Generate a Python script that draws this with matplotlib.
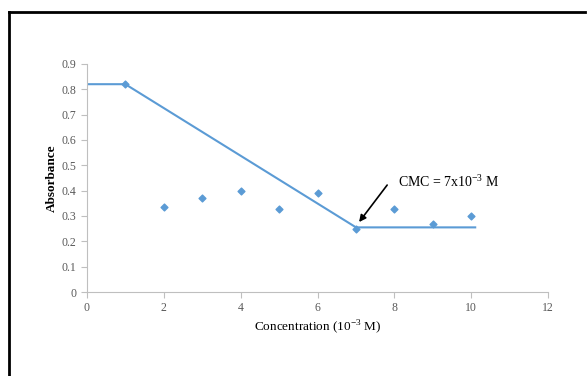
import matplotlib.pyplot as plt
from matplotlib.lines import Line2D

plt.rcParams['font.family'] = ['Liberation Serif', 'DejaVu Serif']

# measured absorbance vs concentration (10^-3 M)
conc = [1, 2, 3, 4, 5, 6, 7, 8, 9, 10]
absorb = [0.82, 0.337, 0.372, 0.397, 0.327, 0.39, 0.248, 0.327, 0.268, 0.298]

# fitted trend line
fit_x = [0, 1, 7, 10.1]
fit_y = [0.82, 0.82, 0.255, 0.255]

blue = '#5b9bd5'

fig = plt.figure(figsize=(5.87, 3.76), dpi=100)
ax = fig.add_axes([0.148, 0.2234, 0.786, 0.6066])

ax.plot(fit_x, fit_y, color=blue, lw=1.5, zorder=2)
ax.scatter(conc, absorb, marker='D', s=12, color=blue, zorder=3)

ax.set_xlim(0, 12)
ax.set_ylim(0, 0.9)
ax.set_xticks(range(0, 13, 2))
ax.set_yticks([i / 10 for i in range(10)])
ax.set_yticklabels(['0'] + ['%.1f' % (i / 10) for i in range(1, 10)])

for s in ['top', 'right']:
    ax.spines[s].set_visible(False)
for s in ['left', 'bottom']:
    ax.spines[s].set_color('#bfbfbf')
ax.tick_params(colors='#bfbfbf', labelcolor='#595959', labelsize=8.5,
               length=4, width=0.8)

ax.set_xlabel(r'Concentration (10$^{\mathregular{-3}}$ M)', fontsize=9.5, labelpad=3)
ax.set_ylabel('Absorbance', fontsize=9.5, fontweight='bold', labelpad=3)

ax.text(8.09, 0.434, r'CMC = 7x10$^{\mathregular{-3}}$ M', fontsize=10,
        va='center', ha='left')
ax.annotate('', xy=(7.08, 0.276), xytext=(7.81, 0.422),
            arrowprops=dict(arrowstyle='-|>', color='black', lw=1.2,
                            mutation_scale=10, shrinkA=0, shrinkB=0))

# frame around the figure (left and top only visible)
fig.add_artist(Line2D([9 / 587, 9 / 587], [0, 1 - 12 / 376], color='black',
                      lw=2, transform=fig.transFigure))
fig.add_artist(Line2D([9 / 587, 585 / 587], [1 - 12 / 376, 1 - 12 / 376],
                      color='black', lw=2, transform=fig.transFigure))

fig.savefig('out.png', dpi=100)
